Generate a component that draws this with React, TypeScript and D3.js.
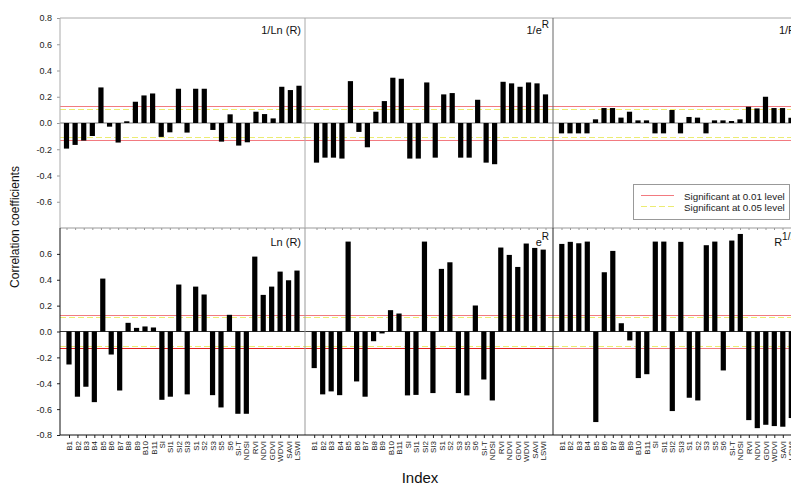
// Six-panel correlation bar chart: coefficient of each index against
// transforms of R, with the 0.01 / 0.05 significance bands.
import React, { useEffect, useRef } from 'react';
import * as d3 from 'd3';

const categories = ['B1', 'B2', 'B3', 'B4', 'B5', 'B6', 'B7', 'B8', 'B9', 'B10', 'B11', 'SI', 'SI1', 'SI2', 'SI3',
  'S1', 'S2', 'S3', 'S5', 'S6', 'SI-T', 'NDSI', 'RVI', 'NDVI', 'GDVI', 'WDVI', 'SAVI', 'LSWI'];

const invLnR = [-0.195, -0.167, -0.134, -0.099, 0.271, -0.028, -0.149, 0.013, 0.162, 0.21, 0.225, -0.106, -0.071, 0.261,
  -0.073, 0.261, 0.261, -0.053, -0.142, 0.066, -0.172, -0.147, 0.086, 0.068, 0.035, 0.276, 0.251, 0.284];
const invExpR = [-0.302, -0.264, -0.264, -0.271, 0.319, -0.068, -0.185, 0.086, 0.167, 0.345, 0.337, -0.271, -0.271, 0.309,
  -0.264, 0.218, 0.228, -0.264, -0.264, 0.177, -0.302, -0.314, 0.314, 0.302, 0.276, 0.309, 0.302, 0.218];
const invR = [-0.079, -0.079, -0.079, -0.079, 0.028, 0.114, 0.114, 0.041, 0.086, 0.02, 0.02, -0.079, -0.079, 0.099,
  -0.079, 0.046, 0.041, -0.079, 0.02, 0.02, 0.015, 0.028, 0.124, 0.111, 0.2, 0.114, 0.114, 0.04];
const lnR = [-0.255, -0.504, -0.427, -0.546, 0.409, -0.178, -0.456, 0.067, 0.028, 0.039, 0.031, -0.528, -0.504, 0.363,
  -0.486, 0.347, 0.286, -0.492, -0.587, 0.129, -0.636, -0.636, 0.579, 0.283, 0.347, 0.463, 0.396, 0.471];
const expR = [-0.283, -0.486, -0.463, -0.492, 0.695, -0.386, -0.504, -0.075, -0.015, 0.165, 0.139, -0.494, -0.49, 0.695,
  -0.476, 0.484, 0.535, -0.476, -0.494, 0.201, -0.371, -0.533, 0.649, 0.592, 0.499, 0.68, 0.646, 0.633];
const sqrtR = [0.677, 0.693, 0.682, 0.695, -0.7, 0.458, 0.623, 0.064, -0.069, -0.36, -0.33, 0.695, 0.695, -0.615,
  0.693, -0.512, -0.533, 0.667, 0.695, -0.301, 0.703, 0.754, -0.685, -0.747, -0.721, -0.731, -0.736, -0.669];

const sig01 = 0.13;
const sig05 = 0.11;
const topTicks = [0.8, 0.6, 0.4, 0.2, 0, -0.2, -0.4, -0.6];
const bottomTicks = [0.6, 0.4, 0.2, 0, -0.2, -0.4, -0.6, -0.8];
const legendLabels = ['Significant at 0.01 level', 'Significant at 0.05 level'];

// title parts: [text, superscript?]
const panels = [
  { values: invLnR, title: [['1/Ln (R)', false]], row: 0, col: 0, span: [66.5, 299] },
  { values: invExpR, title: [['1/e', false], ['R', true]], row: 0, col: 1, span: [316.5, 545.5] },
  { values: invR, title: [['1/R', false]], row: 0, col: 2, span: [561.5, 791] },
  { values: lnR, title: [['Ln (R)', false]], row: 1, col: 0, span: [69, 297] },
  { values: expR, title: [['e', false], ['R', true]], row: 1, col: 1, span: [314.2, 543.2] },
  { values: sqrtR, title: [['R', false], ['1/2', true]], row: 1, col: 2, span: [561.8, 791.3] },
];

const W = 791, H = 486;
const rows = [{ top: 18, bottom: 228 }, { top: 228, bottom: 435 }];
const cols = [{ left: 60, right: 305 }, { left: 305, right: 553 }, { left: 553, right: 800 }];
const FONT = 'Liberation Sans, Arial, sans-serif';
const PINK = '#f27a80';
const YELLOW = '#ecec72';

export default function App() {
  const ref = useRef<SVGSVGElement>(null);

  useEffect(() => {
    const svg = d3.select(ref.current);
    svg.selectAll('*').remove();
    svg.append('rect').attr('width', W).attr('height', H).attr('fill', '#fff');

    const yScales = rows.map(r => d3.scaleLinear().domain([-0.8, 0.8]).range([r.bottom, r.top]));

    panels.forEach((p, i) => {
      const y = yScales[p.row];
      const c = cols[p.col];
      const x = d3.scalePoint<string>().domain(categories).range(p.span as [number, number]);
      const g = svg.append('g');

      // significance lines
      const lowerRed = p.row === 1 && p.col < 2 ? '#e32020' : PINK;
      [[sig01, PINK, null], [-sig01, lowerRed, null], [sig05, YELLOW, '6,3'], [-sig05, YELLOW, '6,3']]
        .forEach(([v, col, dash]) => {
          g.append('line')
            .attr('x1', c.left).attr('x2', c.right)
            .attr('y1', Math.round(y(v as number)) + 0.5).attr('y2', Math.round(y(v as number)) + 0.5)
            .attr('stroke', col as string).attr('stroke-width', 1)
            .attr('stroke-dasharray', dash as any);
        });

      g.append('line')
        .attr('x1', c.left).attr('x2', c.right)
        .attr('y1', y(0)).attr('y2', y(0))
        .attr('stroke', p.row === 0 ? '#777' : '#333');

      g.selectAll('rect.bar')
        .data(p.values)
        .join('rect')
        .attr('class', 'bar')
        .attr('x', (d, j) => (x(categories[j]) as number) - 2.6)
        .attr('width', 5.2)
        .attr('y', d => y(Math.max(0, d)))
        .attr('height', d => Math.abs(y(d) - y(0)))
        .attr('fill', '#000');

      const t = g.append('text')
        .attr('x', c.right - 4)
        .attr('y', rows[p.row].top + (p.row === 0 ? 16 : 18))
        .attr('text-anchor', 'end')
        .attr('font-family', FONT)
        .attr('font-size', 11)
        .attr('fill', '#111');
      let shifted = false;
      p.title.forEach(([txt, sup]) => {
        const ts = t.append('tspan').text(txt as string);
        if (sup && !shifted) { ts.attr('dy', -6).attr('font-size', 10); shifted = true; }
      });

      // x ticks
      const ax = g.append('g').attr('transform', `translate(0,${rows[p.row].bottom})`)
        .call(d3.axisBottom(x).tickSize(p.row === 0 ? 2 : 3).tickSizeOuter(0));
      ax.select('.domain').remove();
      ax.selectAll('.tick line').attr('stroke', p.row === 0 ? '#999' : '#222');
      if (p.row === 0) {
        ax.selectAll('.tick text').remove();
      } else {
        ax.selectAll('.tick text')
          .attr('transform', 'rotate(-90)')
          .attr('text-anchor', 'end')
          .attr('x', -6).attr('y', 0).attr('dy', '0.33em')
          .attr('font-family', FONT).attr('font-size', 8).attr('fill', '#222');
      }
    });

    // y axes
    [topTicks, bottomTicks].forEach((ticks, r) => {
      const ay = svg.append('g').attr('transform', `translate(${cols[0].left},0)`)
        .call(d3.axisLeft(yScales[r]).tickValues(ticks).tickFormat((d: any) => (+d).toFixed(1)).tickSize(3).tickPadding(5));
      ay.select('.domain').remove();
      ay.selectAll('.tick line').attr('stroke', r === 0 ? '#999' : '#222');
      ay.selectAll('.tick text').attr('font-family', FONT).attr('font-size', 9).attr('fill', '#222');
    });

    // frames
    const line = (x1, y1, x2, y2, col) => svg.append('line')
      .attr('x1', x1).attr('y1', y1).attr('x2', x2).attr('y2', y2)
      .attr('stroke', col).attr('stroke-width', 1);
    line(60, 18, W, 18, '#aaa');
    line(60, 18, 60, 228, '#aaa');
    line(60, 228, W, 228, '#999');
    line(305, 18, 305, 228, '#aaa');
    line(305, 228, 305, 435, '#999');
    line(553, 18, 553, 228, '#666');
    line(553, 228, 553, 435, '#222');
    line(60, 228, 60, 435, '#111');
    line(60, 435, W, 435, '#111');

    // legend
    const lg = svg.append('g');
    lg.append('rect').attr('x', 633.5).attr('y', 184.5).attr('width', 156).attr('height', 35)
      .attr('fill', '#fff').attr('stroke', '#999');
    lg.append('line').attr('x1', 641).attr('x2', 674).attr('y1', 195.5).attr('y2', 195.5).attr('stroke', PINK);
    lg.append('line').attr('x1', 641).attr('x2', 674).attr('y1', 206.5).attr('y2', 206.5)
      .attr('stroke', YELLOW).attr('stroke-dasharray', '6,3');
    legendLabels.forEach((s, k) => {
      lg.append('text').attr('x', 684).attr('y', 199.5 + k * 11)
        .attr('font-family', FONT).attr('font-size', 9.8).attr('fill', '#222').text(s);
    });

    // axis titles
    svg.append('text').attr('x', 420).attr('y', 483).attr('text-anchor', 'middle')
      .attr('font-family', FONT).attr('font-size', 15).attr('fill', '#111').text('Index');
    svg.append('text').attr('transform', 'translate(19,227) rotate(-90)').attr('text-anchor', 'middle')
      .attr('font-family', FONT).attr('font-size', 12).attr('fill', '#111').text('Correlation coefficients');
  }, []);

  return (
    <svg ref={ref} width={W} height={H}
      style={{ position: 'absolute', left: 0, top: 0, background: '#fff' }} />
  );
}
